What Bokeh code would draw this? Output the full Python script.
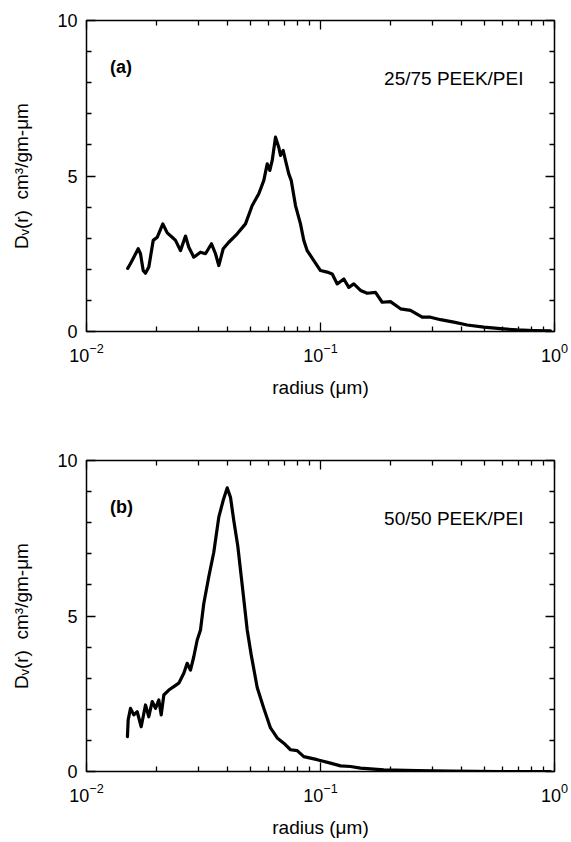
from bokeh.plotting import figure
from bokeh.models import (ColumnDataSource, Range1d, FixedTicker, LogAxis, LinearAxis,
                          Label, CustomJSTickFormatter)
from bokeh.layouts import column
from bokeh.embed import file_html
from bokeh.resources import INLINE

# ---- data ----
radius_a = [0.0150, 0.0154, 0.01593, 0.01663, 0.01701, 0.01747, 0.01787, 0.01846, 0.01928,
            0.02005, 0.02119, 0.02213, 0.02324, 0.02401, 0.02522, 0.02649, 0.02737, 0.02874,
            0.03070, 0.03225, 0.03421, 0.03559, 0.03676, 0.03839, 0.04056, 0.04406, 0.04780,
            0.05107, 0.05450, 0.05725, 0.05920, 0.06073, 0.06218, 0.06423, 0.06635, 0.06747,
            0.06928, 0.07086, 0.07320, 0.07495, 0.07819, 0.08212, 0.08484, 0.08774, 0.09364,
            0.1000, 0.1068, 0.1122, 0.1179, 0.1258, 0.1321, 0.1388, 0.1483, 0.1584, 0.1718,
            0.1835, 0.1991, 0.2198, 0.2424, 0.2720, 0.2952, 0.3257, 0.3713, 0.4236, 0.4988,
            0.5877, 0.6929, 0.8155, 0.9614]
dv_a = [2.03, 2.18, 2.39, 2.66, 2.50, 1.96, 1.87, 2.07, 2.93,
        3.03, 3.46, 3.17, 3.03, 2.93, 2.60, 3.07, 2.71, 2.39,
        2.55, 2.50, 2.82, 2.50, 2.12, 2.66, 2.87, 3.14, 3.46,
        4.05, 4.43, 4.86, 5.39, 5.18, 5.50, 6.25, 5.92, 5.66,
        5.82, 5.50, 5.07, 4.86, 4.05, 3.46, 2.93, 2.60, 2.28,
        1.96, 1.91, 1.85, 1.53, 1.69, 1.42, 1.53, 1.32, 1.23, 1.26,
        0.94, 0.96, 0.73, 0.68, 0.46, 0.46, 0.38, 0.30, 0.21, 0.14,
        0.09, 0.05, 0.03, 0.02]

radius_b = [0.01496, 0.01507, 0.01542, 0.01593, 0.01647, 0.01713, 0.01787, 0.01846, 0.01909,
            0.01972, 0.02037, 0.02086, 0.02140, 0.02248, 0.02361, 0.02480, 0.02605, 0.02693,
            0.02782, 0.02874, 0.02972, 0.03070, 0.03171, 0.03331, 0.03499, 0.03676, 0.03839,
            0.03992, 0.04124, 0.04260, 0.04431, 0.04627, 0.04862, 0.05057, 0.05364, 0.05725,
            0.06114, 0.06531, 0.06969, 0.07444, 0.07950, 0.08484, 0.09681, 0.1103, 0.1218,
            0.1344, 0.1483, 0.1865, 0.2590, 0.3594, 0.5877, 0.9614]
dv_b = [1.12, 1.66, 2.03, 1.82, 1.92, 1.44, 2.14, 1.76, 2.25,
        2.03, 2.30, 1.82, 2.46, 2.62, 2.73, 2.84, 3.16, 3.48,
        3.26, 3.69, 4.23, 4.55, 5.40, 6.26, 7.05, 8.18, 8.72,
        9.12, 8.82, 8.07, 7.25, 6.00, 4.55, 3.75, 2.70, 2.03,
        1.40, 1.08, 0.91, 0.70, 0.67, 0.48, 0.38, 0.27, 0.18,
        0.16, 0.11, 0.05, 0.03, 0.01, 0.0, 0.0]

x_major = [0.01, 0.1, 1.0]
x_minor = [0.02, 0.03, 0.04, 0.05, 0.06, 0.07, 0.08, 0.09,
           0.2, 0.3, 0.4, 0.5, 0.6, 0.7, 0.8, 0.9]
y_major = [0, 5, 10]
y_minor = [1, 2, 3, 4, 6, 7, 8, 9]

panel_tags = ["(a)", "(b)"]
sample_names = ["25/75 PEEK/PEI", "50/50 PEEK/PEI"]
x_title = "radius (\u03bcm)"
y_title = "D\u1d65(r)\u00a0\u00a0cm\u00b3/gm-\u03bcm"

FONT = "Liberation Sans"


def make_panel(rx, dv, tag, name, top_border, bottom_border):
    p = figure(x_axis_type="log", x_range=Range1d(0.01, 1.0), y_range=Range1d(0, 10),
               frame_width=468, frame_height=311, output_backend="svg",
               toolbar_location=None, min_border_left=86, min_border_right=17,
               min_border_top=top_border, min_border_bottom=bottom_border,
               background_fill_color="white", border_fill_color="white")
    p.grid.grid_line_color = None
    p.outline_line_color = "black"
    p.outline_line_width = 1.5
    p.outline_line_alpha = 1.0

    src = ColumnDataSource(dict(r=rx, d=dv))
    p.line("r", "d", source=src, line_color="black", line_width=3.2,
           line_join="round", line_cap="round")

    xa = p.xaxis[0]
    xa.ticker = FixedTicker(ticks=x_major, minor_ticks=x_minor)
    ya = p.yaxis[0]
    ya.ticker = FixedTicker(ticks=y_major, minor_ticks=y_minor)
    for ax in (xa, ya):
        ax.axis_line_color = None
        ax.major_tick_in = 9
        ax.major_tick_out = 0
        ax.minor_tick_in = 5
        ax.minor_tick_out = 0
        ax.major_tick_line_color = "black"
        ax.minor_tick_line_color = "black"
        ax.major_tick_line_width = 1.3
        ax.minor_tick_line_width = 1.3
        ax.major_label_text_font = FONT
        ax.major_label_text_font_size = "18px"
        ax.major_label_text_color = "black"
        ax.axis_label_text_font = FONT
        ax.axis_label_text_font_size = "19px"
        ax.axis_label_text_font_style = "normal"
        ax.axis_label_text_color = "black"
    xa.axis_label = x_title
    xa.major_label_standoff = 11
    xa.axis_label_standoff = 12
    ya.axis_label = y_title
    ya.major_label_standoff = 9
    ya.axis_label_standoff = 22

    top = LogAxis(ticker=FixedTicker(ticks=x_major, minor_ticks=x_minor),
                  formatter=CustomJSTickFormatter(code="return ''"))
    right = LinearAxis(ticker=FixedTicker(ticks=y_major, minor_ticks=y_minor),
                       formatter=CustomJSTickFormatter(code="return ''"))
    for ax in (top, right):
        ax.axis_line_color = None
        ax.major_tick_in = 9
        ax.major_tick_out = 0
        ax.minor_tick_in = 5
        ax.minor_tick_out = 0
        ax.major_tick_line_width = 1.3
        ax.minor_tick_line_width = 1.3
        ax.major_label_standoff = 0
    p.add_layout(top, "above")
    p.add_layout(right, "right")

    p.add_layout(Label(x=0.0126, y=8.5, text=tag, text_font=FONT, text_font_size="18px",
                       text_font_style="bold", text_baseline="middle", text_align="left",
                       text_color="black"))
    p.add_layout(Label(x=0.737, y=8.13, text=name, text_font=FONT, text_font_size="19px",
                       text_baseline="middle", text_align="right", text_color="black"))
    return p


p1 = make_panel(radius_a, dv_a, panel_tags[0], sample_names[0], 20, 97)
p2 = make_panel(radius_b, dv_b, panel_tags[1], sample_names[1], 32, 71)

layout = column(p1, p2, spacing=0)
open("out.html", "w").write(file_html(layout, INLINE))
